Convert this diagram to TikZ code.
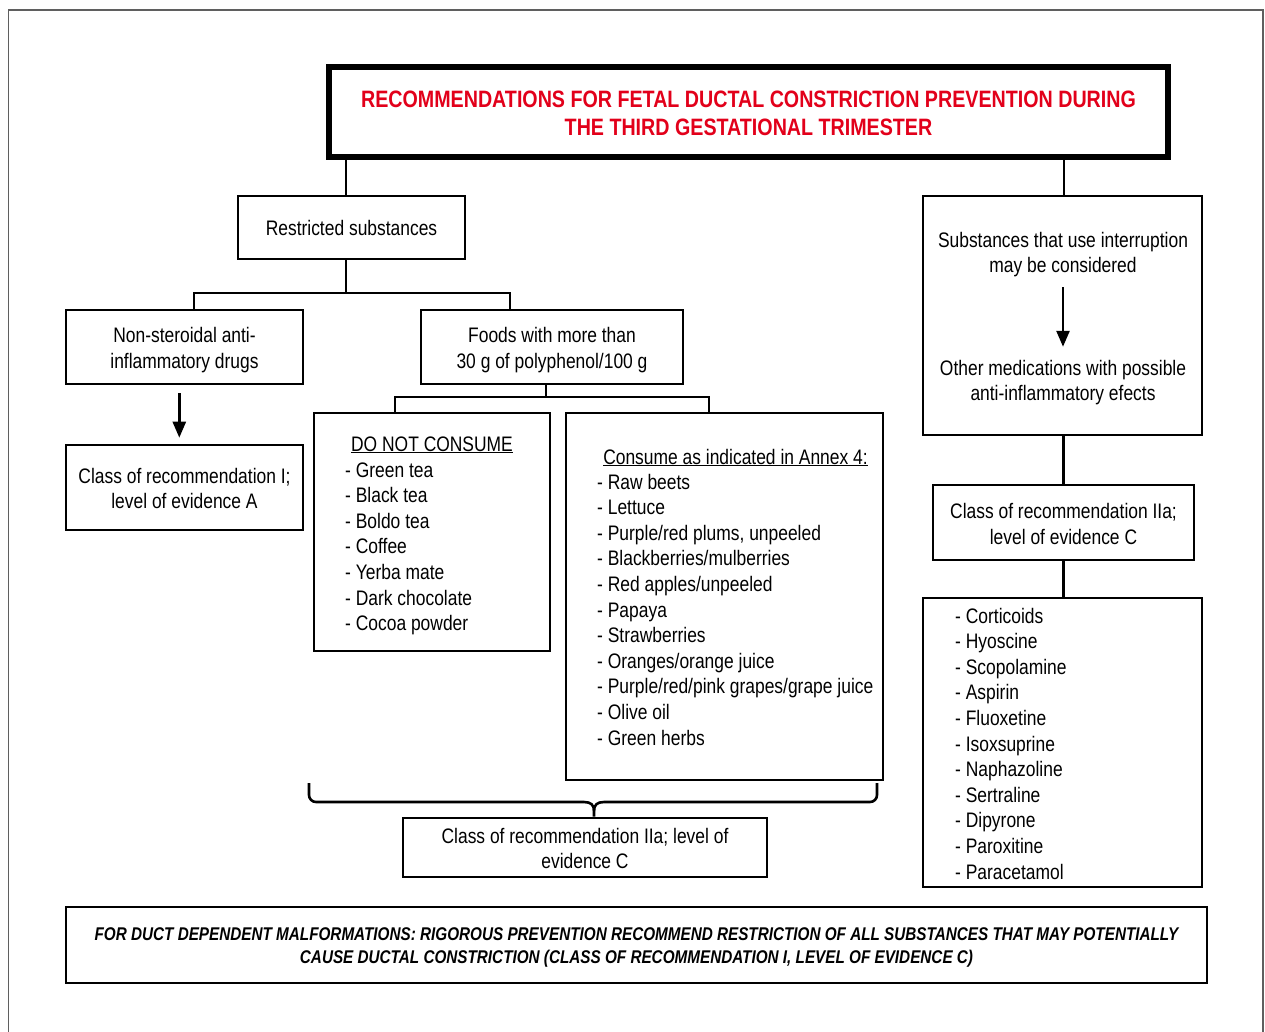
\documentclass[tikz,border=0pt]{standalone}
\usepackage{fontspec}
\setmainfont{Liberation Sans}[FakeStretch=0.83]
\usetikzlibrary{arrows.meta,calc}
\definecolor{titlered}{RGB}{226,0,26}
\definecolor{framegray}{RGB}{95,95,95}
\newcommand\bodyfont{\fontsize{21}{25.5}\selectfont}
\newcommand\headfont{\fontsize{23.7}{28}\selectfont\bfseries}
\newcommand\footfont{\fontsize{18.4}{23}\selectfont\bfseries\itshape}
\begin{document}
\begin{tikzpicture}[x=1pt,y=-1pt,
  box/.style={draw, line width=2.6pt, inner sep=0pt, align=center, font=\bodyfont},
  txt/.style={inner sep=0pt, align=center, font=\bodyfont},
  item/.style={inner sep=0pt, anchor=base west, font=\bodyfont},
  link/.style={line width=2.6pt},
  arr/.style={line width=2.6pt, -{Triangle[width=13pt,length=16pt]}},
  frame/.style={draw=framegray, line width=1.5pt}]
\useasboundingbox (0,0) rectangle (1265,1032);

% outer frame
\draw[frame] (8.5,1032) -- (8.5,10) -- (1263,10) -- (1263,1032);

% title
\node[box, line width=5.5pt, minimum width=839, minimum height=90] (title) at (748.5,112)
  {};
\node[txt, font=\headfont, text=titlered] (titletext) at (748.5,113)
  {RECOMMENDATIONS FOR FETAL DUCTAL CONSTRICTION PREVENTION DURING\\THE THIRD GESTATIONAL TRIMESTER};

% left branch
\node[box, minimum width=227, minimum height=63] (rs) at (351.5,227.5) {Restricted substances};
\node[box, minimum width=237, minimum height=74,
      label={[txt, yshift=-3pt]center:{Non-steroidal anti-\\inflammatory drugs}}] (nsaid) at (184.5,347) {};
\node[box, minimum width=237, minimum height=85,
      label={[txt, yshift=-1pt]center:{Class of recommendation I;\\level of evidence A}}] (cI) at (184.5,487.5) {};
\node[box, minimum width=262, minimum height=74,
      label={[txt, yshift=-3pt]center:{Foods with more than\\30 g of polyphenol/100 g}}] (foods) at (552,347) {};
\node[box, minimum width=236, minimum height=238] (dnc) at (432,532) {};
\node[box, minimum width=317, minimum height=367] (cons) at (724.5,596.5) {};
\node[box, minimum width=364, minimum height=59,
      label={[txt, yshift=-1pt]center:{Class of recommendation IIa; level of\\evidence C}}] (cb) at (585,847.5) {};

% food lists
\node[txt, anchor=base] (dnch) at (432,451) {\underline{DO NOT CONSUME}};
\foreach \t [count=\i from 0] in {Green tea, Black tea, Boldo tea, Coffee, Yerba mate, Dark chocolate, Cocoa powder}
  \node[item] (dn\i) at (345,477+25.6*\i) {- \t};
\node[txt, anchor=base] (consh) at (735.5,464) {\underline{Consume as indicated in Annex 4:}};
\foreach \t [count=\i from 0] in {Raw beets, Lettuce, {Purple/red plums, unpeeled}, Blackberries/mulberries, Red apples/unpeeled, Papaya, Strawberries, Oranges/orange juice, Purple/red/pink grapes/grape juice, Olive oil, Green herbs}
  \node[item] (cs\i) at (597,489+25.6*\i) {- \t};

% right branch
\node[box, minimum width=279, minimum height=239] (rb) at (1062.5,315.5) {};
\node[txt] (rt1) at (1063,254.5) {Substances that use interruption\\may be considered};
\node[txt] (rt2) at (1063,382.5) {Other medications with possible\\anti-inflammatory efects};
\node[box, minimum width=261, minimum height=75,
      label={[txt, yshift=-1.5pt]center:{Class of recommendation IIa;\\level of evidence C}}] (rc) at (1063.5,522.5) {};
\node[box, minimum width=279, minimum height=289] (meds) at (1062.5,742.5) {};
\foreach \t [count=\i from 0] in {Corticoids, Hyoscine, Scopolamine, Aspirin, Fluoxetine, Isoxsuprine, Naphazoline, Sertraline, Dipyrone, Paroxitine, Paracetamol}
  \node[item] (md\i) at (955,623+25.6*\i) {- \t};

% footnote box
\node[box, minimum width=1141, minimum height=76,
      label={[txt, font=\footfont, yshift=-2pt]center:{FOR DUCT DEPENDENT MALFORMATIONS: RIGOROUS PREVENTION RECOMMEND RESTRICTION OF ALL SUBSTANCES THAT MAY POTENTIALLY\\CAUSE DUCTAL CONSTRICTION (CLASS OF RECOMMENDATION I, LEVEL OF EVIDENCE C)}}] (foot) at (636.5,945) {};

% connectors
\draw[link] ([xshift=-5.5pt]rs.north) -- ([xshift=-5.5pt]rs.north |- title.south);
\draw[link] ([xshift=1.5pt]rb.north) -- ([xshift=1.5pt]rb.north |- title.south);
\coordinate (j1) at (346,293);
\draw[link] ([xshift=-5.5pt]rs.south) -- (j1);
\draw[link] ([xshift=9.5pt]nsaid.north) |- (j1) -| ([xshift=-42pt]foods.north);
\coordinate (j2) at (546,397);
\draw[link] ([xshift=-6pt]foods.south) -- (j2);
\draw[link] ([xshift=-37pt]dnc.north) |- (j2) -| ([xshift=-15.5pt]cons.north);
\draw[arr, shorten <=8pt, shorten >=6pt] ([xshift=-5.2pt]nsaid.south) -- ([xshift=-5.2pt]cI.north);
\draw[arr, shorten <=10pt, shorten >=13pt] (rt1.south) -- (rt2.north);
\draw[link] (rc.north) -- (rc.north |- rb.south);
\draw[link] (rc.south) -- (rc.south |- meds.north);

% brace gathering both food lists
\coordinate (bl) at (309,783);
\coordinate (br) at (877,783);
\coordinate (bm) at (594,802);
\draw[link] (cb.north -| bm) -- ($(bm)+(0,9)$)
  .. controls ($(bm)+(0,3)$) and ($(bm)+(-3,0)$) .. ($(bm)+(-10,0)$)
  [rounded corners=7pt] -| (bl);
\draw[link] ($(bm)+(0,9)$)
  .. controls ($(bm)+(0,3)$) and ($(bm)+(3,0)$) .. ($(bm)+(10,0)$)
  [rounded corners=7pt] -| (br);
\end{tikzpicture}
\end{document}
